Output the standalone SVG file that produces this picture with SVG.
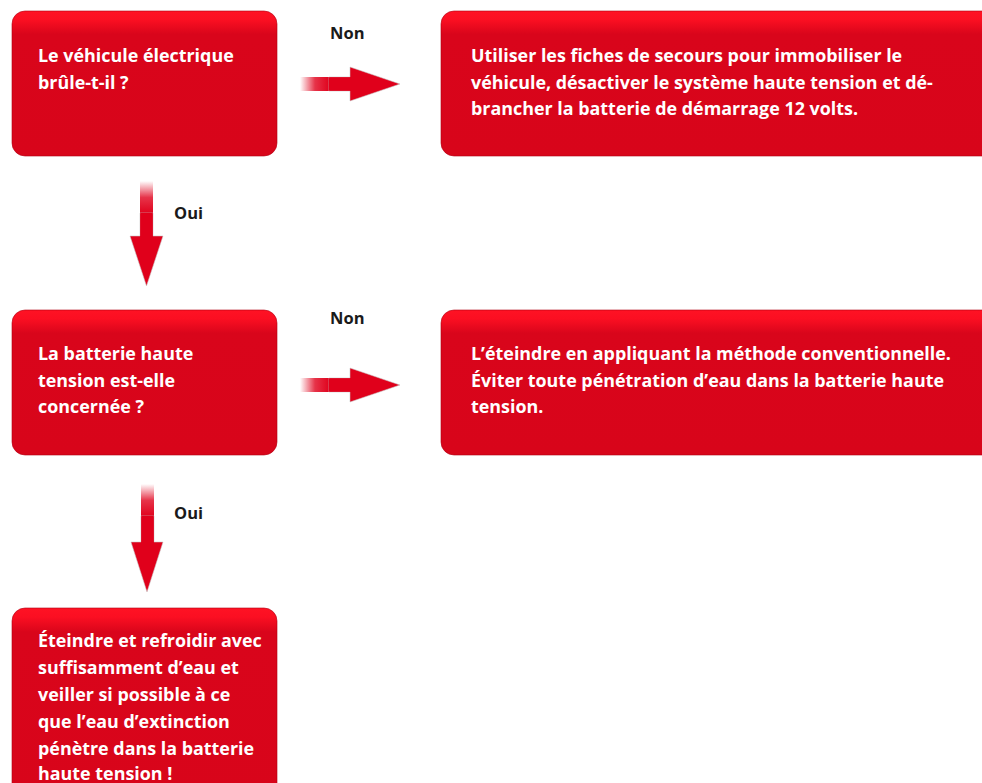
<svg xmlns="http://www.w3.org/2000/svg" width="982" height="783" viewBox="0 0 982 783">
<style>
.box{stroke:#b30012;stroke-width:1;stroke-opacity:0.6}
.t{font-family:"Open Sans","Noto Sans","Liberation Sans",sans-serif;font-weight:bold;font-size:17.9px;fill:#ffffff}
.lbl{font-family:"Open Sans","Noto Sans","Liberation Sans",sans-serif;font-weight:bold;font-size:16.5px;fill:#1a1a1a}
.ah{fill:#e0001b;stroke:#c8c8c8;stroke-width:0.8;stroke-opacity:0.7}
</style>
<defs>
<linearGradient id="g1" x1="0" y1="0" x2="0" y2="1">
<stop offset="0" stop-color="#ff1224"/>
<stop offset="0.06" stop-color="#fb0f22"/>
<stop offset="0.16" stop-color="#d9051b"/>
<stop offset="1" stop-color="#d8051a"/>
</linearGradient>
<linearGradient id="g5" x1="0" y1="0" x2="0" y2="1">
<stop offset="0" stop-color="#ff1224"/>
<stop offset="0.045" stop-color="#fb0f22"/>
<stop offset="0.12" stop-color="#d9051b"/>
<stop offset="1" stop-color="#d8051a"/>
</linearGradient>
<linearGradient id="fh" x1="0" y1="0" x2="1" y2="0">
<stop offset="0" stop-color="#e0001b" stop-opacity="0"/>
<stop offset="0.5" stop-color="#e0001b" stop-opacity="0.8"/>
<stop offset="1" stop-color="#e0001b"/>
</linearGradient>
<linearGradient id="fv" x1="0" y1="0" x2="0" y2="1">
<stop offset="0" stop-color="#e0001b" stop-opacity="0"/>
<stop offset="0.5" stop-color="#e0001b" stop-opacity="0.8"/>
<stop offset="1" stop-color="#e0001b"/>
</linearGradient>
</defs>
<rect width="982" height="783" fill="#ffffff"/>

<g id="connectors">
  <g id="arrow-non-1">
    <rect x="300" y="77" width="30" height="14" fill="url(#fh)"/>
    <polygon class="ah" points="329,77 350,77 350,67 400,84 350,101 350,91 329,91"/>
    <rect x="329" y="77.4" width="22" height="13.2" fill="#e0001b"/>
    <text class="lbl" x="330" y="39">Non</text>
  </g>
  <g id="arrow-oui-1">
    <rect x="140" y="181" width="13" height="33" fill="url(#fv)"/>
    <polygon class="ah" points="140,213 153,213 153,236 163,236 146.5,286 130,236 140,236"/>
    <rect x="140.4" y="213" width="12.2" height="24" fill="#e0001b"/>
    <text class="lbl" x="174" y="219">Oui</text>
  </g>
  <g id="arrow-non-2">
    <rect x="300" y="378" width="30" height="14" fill="url(#fh)"/>
    <polygon class="ah" points="329,378 350,378 350,368 400,385 350,402 350,392 329,392"/>
    <rect x="329" y="378.4" width="22" height="13.2" fill="#e0001b"/>
    <text class="lbl" x="330" y="324">Non</text>
  </g>
  <g id="arrow-oui-2">
    <rect x="141" y="484" width="13" height="33" fill="url(#fv)"/>
    <polygon class="ah" points="141,516 154,516 154,542 163,542 147,592 131,542 141,542"/>
    <rect x="141.4" y="516" width="12.2" height="27" fill="#e0001b"/>
    <text class="lbl" x="174" y="519">Oui</text>
  </g>
</g>

<g id="node-q1">
  <rect class="box" x="12" y="11" width="265" height="145" rx="13" fill="url(#g1)"/>
  <text class="t" x="38" y="62">Le véhicule électrique</text>
  <text class="t" x="38" y="89">brûle-t-il ?</text>
</g>

<g id="node-a1">
  <rect class="box" x="441" y="11" width="560" height="145" rx="13" fill="url(#g1)"/>
  <text class="t" x="471" y="62">Utiliser les fiches de secours pour immobiliser le</text>
  <text class="t" x="471" y="89">véhicule, désactiver le système haute tension et dé-</text>
  <text class="t" x="471" y="115">brancher la batterie de démarrage 12 volts.</text>
</g>

<g id="node-q2">
  <rect class="box" x="12" y="310" width="265" height="145" rx="13" fill="url(#g1)"/>
  <text class="t" x="38" y="360">La batterie haute</text>
  <text class="t" x="38" y="387">tension est-elle</text>
  <text class="t" x="38" y="413">concernée ?</text>
</g>

<g id="node-a2">
  <rect class="box" x="441" y="310" width="560" height="145" rx="13" fill="url(#g1)"/>
  <text class="t" x="471" y="360">L’éteindre en appliquant la méthode conventionnelle.</text>
  <text class="t" x="471" y="387">Éviter toute pénétration d’eau dans la batterie haute</text>
  <text class="t" x="471" y="413">tension.</text>
</g>

<g id="node-a3">
  <rect class="box" x="12" y="608" width="265" height="200" rx="13" fill="url(#g5)"/>
  <text class="t" x="38" y="647">Éteindre et refroidir avec</text>
  <text class="t" x="38" y="674">suffisamment d’eau et</text>
  <text class="t" x="38" y="701">veiller si possible à ce</text>
  <text class="t" x="38" y="728">que l’eau d’extinction</text>
  <text class="t" x="38" y="755">pénètre dans la batterie</text>
  <text class="t" x="38" y="780">haute tension !</text>
</g>
</svg>
